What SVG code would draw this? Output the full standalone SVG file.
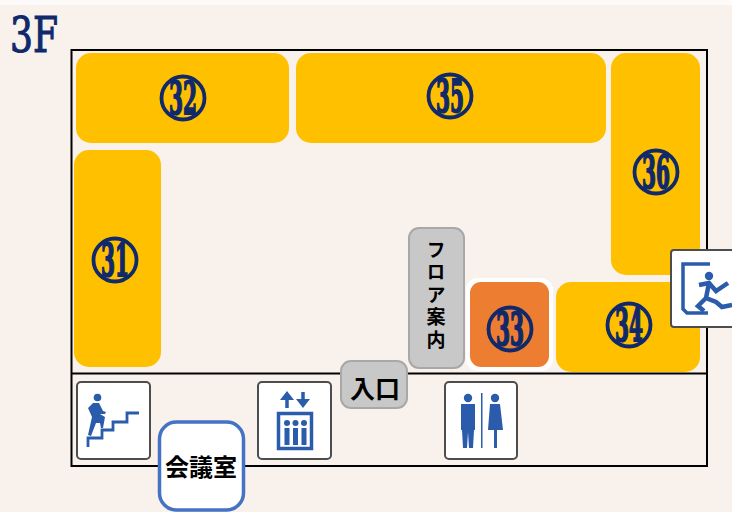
<svg xmlns="http://www.w3.org/2000/svg" width="732" height="512" viewBox="0 0 732 512">
<style>
.y{fill:#ffc000}
.c{fill:none;stroke:#10296b;stroke-width:3.800}
.n{font-family:"DejaVu Serif",serif;font-weight:700;font-size:44px;fill:#10296b;stroke:#10296b;stroke-width:2;text-anchor:middle}
.g{fill:#c8c8c8;stroke:#a8a8a8;stroke-width:2}
.j{font-family:"Noto Sans CJK JP",sans-serif;font-weight:700;fill:#000;text-anchor:middle}
.i{fill:#fff;stroke:#4d4d4d;stroke-width:2}
.b{fill:#2a5cab}
.s{fill:none;stroke:#2a5cab}
.f{fill:none;stroke:#000;stroke-width:2}
</style>
<rect width="732" height="512" fill="#f9f1eb"/>
<rect width="732" height="5" fill="#fdfbf9"/>
<text x="10" y="52" font-family="DejaVu Serif,serif" font-size="48" fill="#10296b" stroke="#10296b" stroke-width="1.200" textLength="48" lengthAdjust="spacingAndGlyphs" id="title">3F</text>
<g id="connectors">
<path class="f" d="M71.500 50H707V466H71.500ZM71.500 373.500H707"/>
</g>
<g id="n32"><rect class="y" x="76" y="53" width="213" height="90" rx="15"/><circle class="c" cx="183" cy="98" r="21.500"/><text class="n" x="183" y="114" textLength="28" lengthAdjust="spacingAndGlyphs">32</text></g>
<g id="n35"><rect class="y" x="296" y="53" width="310" height="90" rx="15"/><circle class="c" cx="450" cy="96" r="21.500"/><text class="n" x="450" y="112" textLength="28" lengthAdjust="spacingAndGlyphs">35</text></g>
<g id="n36"><rect class="y" x="611" y="53" width="89" height="222" rx="15"/><circle class="c" cx="656" cy="172" r="21.500"/><text class="n" x="656" y="188" textLength="28" lengthAdjust="spacingAndGlyphs">36</text></g>
<g id="n31"><rect class="y" x="74" y="150" width="87" height="217" rx="15"/><circle class="c" cx="115" cy="260" r="21.500"/><text class="n" x="115" y="276" textLength="28" lengthAdjust="spacingAndGlyphs">31</text></g>
<g id="n34"><rect class="y" x="556" y="282" width="144" height="90" rx="15"/><circle class="c" cx="629" cy="325" r="21.500"/><text class="n" x="629" y="341" textLength="28" lengthAdjust="spacingAndGlyphs">34</text></g>
<g id="n33"><rect x="466" y="278" width="87" height="93" rx="12" fill="#fff"/><rect x="470" y="282" width="79" height="85" rx="11" fill="#ed7d31"/><circle class="c" cx="510" cy="329" r="21.500"/><text class="n" x="510" y="345" textLength="28" lengthAdjust="spacingAndGlyphs">33</text></g>
<g id="floor-guide"><rect class="g" x="409" y="228" width="55" height="140" rx="10"/>
<text x="436" y="240" font-family="Noto Sans CJK JP,sans-serif" font-weight="700" font-size="19" letter-spacing="3.500" style="writing-mode:vertical-rl">フロア案内</text></g>
<g id="entrance"><rect class="g" x="341" y="361" width="66" height="47" rx="10"/><text class="j" x="375" y="398" font-size="25">入口</text></g>
<g id="stairs"><rect class="i" x="77" y="382" width="73" height="77" rx="4"/>
<circle class="b" cx="97.500" cy="397.500" r="3.800"/>
<path class="b" d="M93 403L99 403 103 411 106 412 105 414 100 414 105 417 103 428 101 428 100 423 96 423 91 436 88 435 92 417 88 408Z"/>
<path class="s" stroke-width="2.800" d="M88 447V438H102V430H113V422H127V413H139"/></g>
<g id="elevator"><rect class="i" x="258" y="382" width="73" height="77" rx="4"/>
<path class="s" stroke-width="3.500" d="M287 396V408M303 392V404"/>
<path class="b" d="M287 391L280 400H294ZM303 408L296 399H310Z"/>
<rect class="s" stroke-width="3.500" x="278.500" y="413.500" width="33" height="35"/>
<g class="b"><circle cx="287" cy="423" r="3"/><circle cx="295.500" cy="423" r="3"/><circle cx="304" cy="423" r="3"/><rect x="284.500" y="428" width="5" height="17"/><rect x="293" y="428" width="5" height="17"/><rect x="301.500" y="428" width="5" height="17"/></g></g>
<g id="restroom"><rect class="i" x="445" y="382" width="72" height="77" rx="4"/>
<g class="b"><circle cx="468" cy="398" r="4.200"/><path d="M461 404H475V430H474L473 448H469L468 432 467 448H463L462 430H461Z"/><rect x="481" y="393" width="1.500" height="55"/><circle cx="495" cy="398" r="4.200"/><path d="M490 404H500L503 430H497V448H494V430H488Z"/></g></g>
<g id="exit"><path d="M732 250H674Q671 250 671 253V324Q671 327 674 327H732" fill="#fff" stroke="#4d4d4d" stroke-width="2"/>
<path class="s" stroke-width="3.500" d="M710 264H683V309L687 313H708"/>
<circle class="b" cx="709" cy="276" r="4.200"/>
<path class="s" stroke-width="4.500" d="M699 285L709 283 716 291 728 283M709 283L706 298 716 302 722 307 732 305M706 298L698 306 704 311"/></g>
<g id="meeting-room"><rect x="159.500" y="422" width="84" height="88" rx="17" fill="#fff" stroke="#4472c4" stroke-width="3.500"/><text class="j" x="201" y="476" font-size="24">会議室</text></g>
</svg>
